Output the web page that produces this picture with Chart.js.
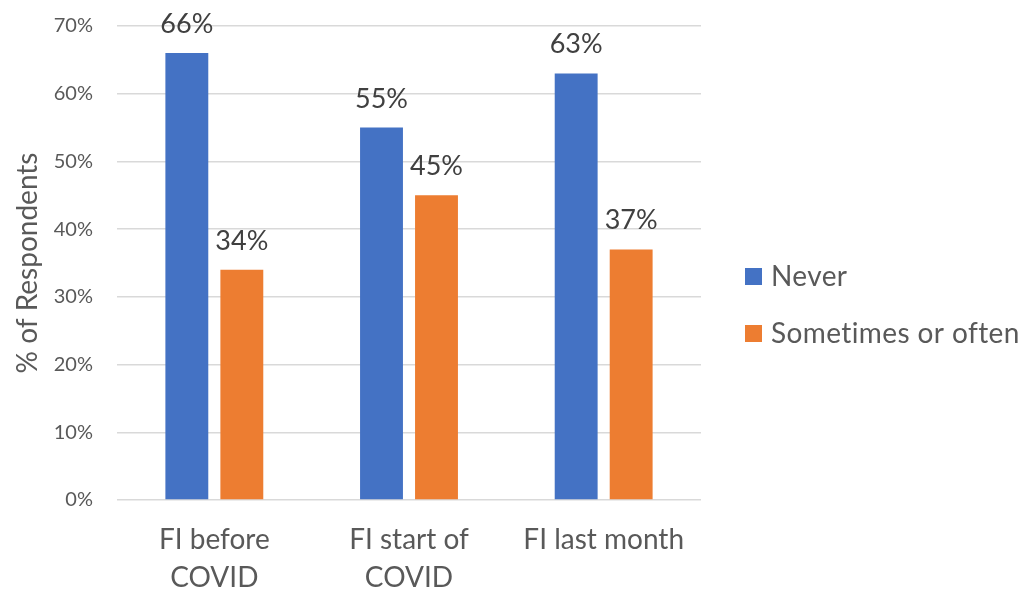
<!DOCTYPE html>
<html>
<head>
<meta charset="utf-8">
<script src="https://cdn.jsdelivr.net/npm/chart.js@4"></script>
<style>
  html, body { margin: 0; padding: 0; background: #fff; }
  #wrap { width: 1030px; height: 591px; }
</style>
</head>
<body>
<div id="wrap"><canvas id="chart" width="1030" height="591"></canvas></div>
<script>
// Food insecurity groups and answer shares (%)
const categories = [['FI before', 'COVID'], ['FI start of', 'COVID'], ['FI last month']];
const neverValues = [66, 55, 63];
const sometimesValues = [34, 45, 37];
const yTicks = [0, 10, 20, 30, 40, 50, 60, 70];

const FONT = 'Lato, "Open Sans", sans-serif';
const TEXT = '#595959';

// Writes the percentage above each bar
const valueLabels = {
  id: 'valueLabels',
  afterDatasetsDraw(chart) {
    const ctx = chart.ctx;
    ctx.save();
    ctx.font = '27px ' + FONT;
    ctx.fillStyle = '#404040';
    ctx.textAlign = 'center';
    ctx.textBaseline = 'alphabetic';
    chart.data.datasets.forEach((ds, i) => {
      chart.getDatasetMeta(i).data.forEach((bar, j) => {
        ctx.fillText(ds.data[j] + '%', bar.x, bar.y - 20);
      });
    });
    ctx.restore();
  }
};

// Legend on the right, drawn by hand so the plot width stays fixed
const sideLegend = {
  id: 'sideLegend',
  afterDraw(chart) {
    const ctx = chart.ctx;
    const x = chart.chartArea.right + 44;
    const rowGap = 57;
    const y0 = 276;
    ctx.save();
    ctx.font = '28px ' + FONT;
    ctx.letterSpacing = '0.4px';
    ctx.textAlign = 'left';
    ctx.textBaseline = 'middle';
    chart.data.datasets.forEach((ds, i) => {
      const y = y0 + i * rowGap;
      ctx.fillStyle = ds.backgroundColor;
      ctx.fillRect(x, y - 8, 17, 17);
      ctx.fillStyle = TEXT;
      ctx.fillText(ds.label, x + 26, y + 1);
    });
    ctx.restore();
  }
};

new Chart(document.getElementById('chart').getContext('2d'), {
  type: 'bar',
  data: {
    labels: categories,
    datasets: [
      { label: 'Never', data: neverValues, backgroundColor: '#4472c4' },
      { label: 'Sometimes or often', data: sometimesValues, backgroundColor: '#ed7d31' }
    ]
  },
  options: {
    responsive: false,
    animation: false,
    categoryPercentage: 0.565,
    barPercentage: 0.78,
    layout: { padding: { top: 26, right: 329, bottom: 0, left: 11 } },
    plugins: {
      legend: { display: false },
      tooltip: { enabled: false }
    },
    scales: {
      x: {
        afterFit(axis) { axis.height = 91; },
        grid: { display: false, drawTicks: false },
        border: { display: false },
        ticks: {
          font: { family: FONT, size: 28, lineHeight: 1.36 },
          color: TEXT,
          padding: 21
        }
      },
      y: {
        min: 0,
        max: 70,
        afterBuildTicks(axis) { axis.ticks = yTicks.map(v => ({ value: v })); },
        afterFit(axis) {
          axis.width = 106;
          axis.paddingTop = 0;
          axis.paddingBottom = 0;
        },
        grid: { color: '#d9d9d9', lineWidth: 1.5, drawTicks: false },
        border: { display: false },
        ticks: {
          font: { family: FONT, size: 20 },
          color: TEXT,
          padding: 24,
          callback: v => v + '%'
        },
        title: {
          display: true,
          text: '% of Respondents',
          font: { family: FONT, size: 28 },
          color: TEXT,
          padding: { top: 0, bottom: 0 }
        }
      }
    }
  },
  plugins: [valueLabels, sideLegend]
});
</script>
</body>
</html>
